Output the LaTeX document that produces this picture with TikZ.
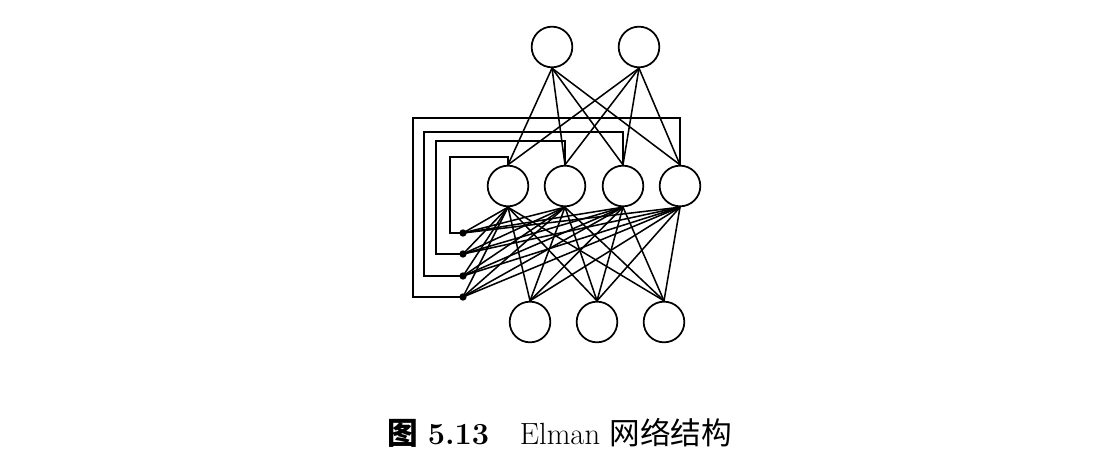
\documentclass[tikz,border=0pt]{standalone}
\usepackage{fontspec}
\newfontfamily\cjk{Noto Sans CJK SC}

\begin{document}
\begin{tikzpicture}[x=0.75pt,y=0.75pt,yscale=-1,xscale=1,line width=1.15pt,
  neuron/.style={draw, circle, minimum size=30.5pt, inner sep=0pt, line width=1.3pt},
  ctxdot/.style={circle, fill, inner sep=0pt, minimum size=5.5pt}]
\useasboundingbox (0,0) rectangle (1118,456);

% Output Nodes
\node [neuron] (out1) at (552,47) {};
\node [neuron] (out2) at (639,47) {};
% Hidden Nodes
\node [neuron] (hid1) at (508,186) {};
\node [neuron] (hid2) at (565,186) {};
\node [neuron] (hid3) at (623,186) {};
\node [neuron] (hid4) at (680,186) {};
% Input Nodes
\node [neuron] (in1) at (530,322) {};
\node [neuron] (in2) at (597,322) {};
\node [neuron] (in3) at (664,322) {};
% Context Units
\node [ctxdot] (ctx1) at (463,233) {};
\node [ctxdot] (ctx2) at (463,254) {};
\node [ctxdot] (ctx3) at (463,276) {};
\node [ctxdot] (ctx4) at (463,297) {};

% Hidden to Output
\draw (out1.south) -- (hid1.north) ;
\draw (out1.south) -- (hid2.north) ;
\draw (out1.south) -- (hid3.north) ;
\draw (out1.south) -- (hid4.north) ;
\draw (out2.south) -- (hid1.north) ;
\draw (out2.south) -- (hid2.north) ;
\draw (out2.south) -- (hid3.north) ;
\draw (out2.south) -- (hid4.north) ;

% Input to Hidden
\draw (in1.north) -- (hid1.south) ;
\draw (in1.north) -- (hid2.south) ;
\draw (in1.north) -- (hid3.south) ;
\draw (in1.north) -- (hid4.south) ;
\draw (in2.north) -- (hid1.south) ;
\draw (in2.north) -- (hid2.south) ;
\draw (in2.north) -- (hid3.south) ;
\draw (in2.north) -- (hid4.south) ;
\draw (in3.north) -- (hid1.south) ;
\draw (in3.north) -- (hid2.south) ;
\draw (in3.north) -- (hid3.south) ;
\draw (in3.north) -- (hid4.south) ;

% Context to Hidden
\draw (ctx1.center) -- (hid1.south) ;
\draw (ctx1.center) -- (hid2.south) ;
\draw (ctx1.center) -- (hid3.south) ;
\draw (ctx1.center) -- (hid4.south) ;
\draw (ctx2.center) -- (hid1.south) ;
\draw (ctx2.center) -- (hid2.south) ;
\draw (ctx2.center) -- (hid3.south) ;
\draw (ctx2.center) -- (hid4.south) ;
\draw (ctx3.center) -- (hid1.south) ;
\draw (ctx3.center) -- (hid2.south) ;
\draw (ctx3.center) -- (hid3.south) ;
\draw (ctx3.center) -- (hid4.south) ;
\draw (ctx4.center) -- (hid1.south) ;
\draw (ctx4.center) -- (hid2.south) ;
\draw (ctx4.center) -- (hid3.south) ;
\draw (ctx4.center) -- (hid4.south) ;

% Feedback Lines
\draw (hid1.north) |- (450,157) |- (ctx1.center) ;
\draw (hid2.north) |- (436,141) |- (ctx2.center) ;
\draw (hid3.north) |- (424,132) |- (ctx3.center) ;
\draw (hid4.north) |- (413,118) |- (ctx4.center) ;

% Text Node
\node [inner sep=0pt, font=\fontsize{23}{27}\selectfont] (caption) at (560,433)
  {{\cjk\bfseries 图}\ \textbf{5.13}\quad Elman {\cjk 网络结构}};

\end{tikzpicture}
\end{document}
